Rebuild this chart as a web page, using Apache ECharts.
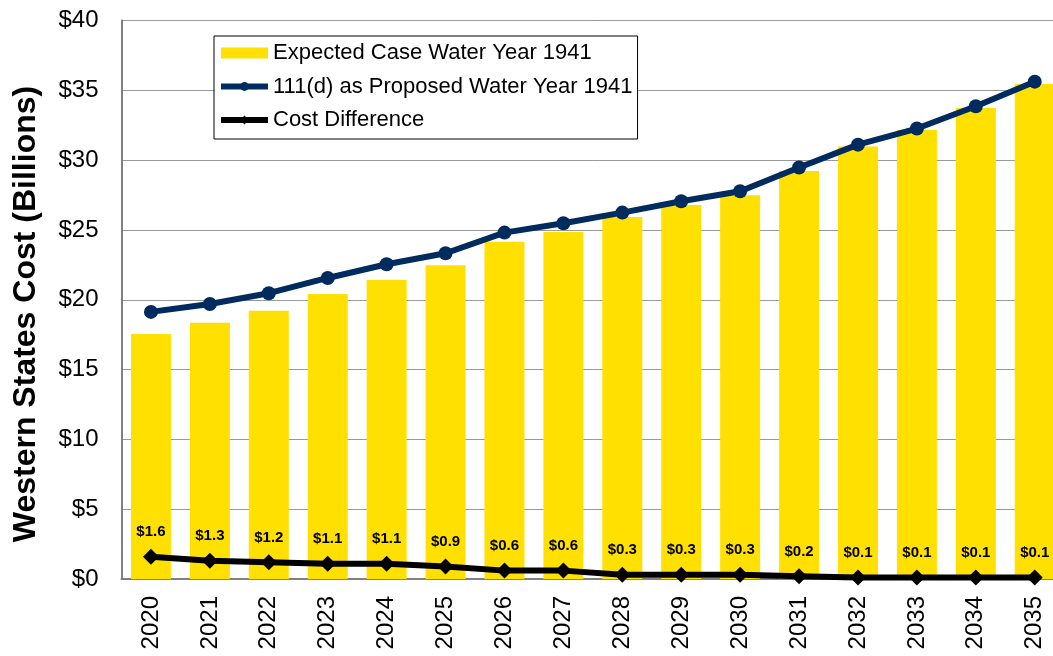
<!DOCTYPE html>
<html>
<head>
<meta charset="utf-8">
<script src="https://cdn.jsdelivr.net/npm/echarts@6/dist/echarts.min.js"></script>
<style>
html,body{margin:0;padding:0;background:#fff;overflow:hidden;width:1053px;height:656px;}
#chart{width:1080px;height:656px;}
</style>
</head>
<body>
<div id="chart"></div>
<script>
var years = ['2020','2021','2022','2023','2024','2025','2026','2027','2028','2029','2030','2031','2032','2033','2034','2035'];
var expectedCase = [17.55,18.36,19.22,20.42,21.42,22.47,24.16,24.86,25.93,26.79,27.49,29.23,30.97,32.16,33.74,35.46];
var proposed111d = [19.13,19.7,20.47,21.56,22.54,23.33,24.81,25.48,26.24,27.05,27.77,29.47,31.11,32.26,33.86,35.62];
var costDifference = [1.6,1.3,1.2,1.1,1.1,0.9,0.6,0.6,0.3,0.3,0.3,0.2,0.1,0.1,0.1,0.1];
var seriesNames = ['Expected Case Water Year 1941','111(d) as Proposed Water Year 1941','Cost Difference'];
var yAxisTitle = 'Western States Cost (Billions)';

var chart = echarts.init(document.getElementById('chart'));
var font = 'Liberation Sans, Arial, sans-serif';
chart.setOption({
  animation: false,
  textStyle: {fontFamily: font},
  grid: {
    left: 121.5, top: 20.5, width: 942.7, height: 558.5,
    show: true, borderColor: '#555', borderWidth: 1, backgroundColor: 'transparent'
  },
  graphic: [{
    type: 'text',
    x: 26, y: 314,
    rotation: Math.PI / 2,
    style: {
      text: yAxisTitle,
      font: 'bold 32px ' + font,
      fill: '#000',
      align: 'center',
      verticalAlign: 'middle'
    }
  }],
  legend: {
    orient: 'vertical',
    left: 214, top: 36,
    padding: [6, 5, 8, 4],
    itemGap: 11.5,
    itemWidth: 47, itemHeight: 11,
    borderColor: '#000', borderWidth: 1, backgroundColor: '#fff',
    textStyle: {fontFamily: font, fontSize: 22, color: '#000', lineHeight: 22},
    data: [
      {name: seriesNames[0], icon: 'rect'},
      {name: seriesNames[1], lineStyle: {width: 6}},
      {name: seriesNames[2], lineStyle: {width: 6}}
    ]
  },
  xAxis: {
    type: 'category',
    data: years,
    axisLine: {lineStyle: {color: '#808080', width: 2}},
    axisTick: {show: false},
    axisLabel: {rotate: 90, fontSize: 24, color: '#000', margin: 17, fontFamily: font}
  },
  yAxis: {
    type: 'value',
    min: 0, max: 40, interval: 5,
    axisLine: {show: true, lineStyle: {color: '#808080', width: 2}},
    axisTick: {show: false},
    axisLabel: {fontSize: 24, color: '#000', margin: 23, fontFamily: font, formatter: function(v){return '$' + v;}},
    splitLine: {lineStyle: {color: '#9a9a9a', width: 1}}
  },
  series: [
    {
      name: seriesNames[0],
      type: 'bar',
      data: expectedCase,
      barWidth: 40,
      itemStyle: {color: '#FFE000'},
      z: 1
    },
    {
      name: seriesNames[1],
      type: 'line',
      data: proposed111d,
      symbol: 'circle',
      symbolSize: 14,
      lineStyle: {color: '#002B5E', width: 6},
      itemStyle: {color: '#002B5E'},
      z: 3
    },
    {
      name: seriesNames[2],
      type: 'line',
      data: costDifference,
      symbol: 'diamond',
      symbolSize: 16,
      lineStyle: {color: '#000', width: 6},
      itemStyle: {color: '#000'},
      label: {
        show: true, position: 'top', distance: 9,
        fontSize: 15, fontWeight: 'bold', color: '#000', fontFamily: font,
        formatter: function(p){return '$' + p.value.toFixed(1);}
      },
      z: 4
    }
  ]
});
</script>
</body>
</html>
